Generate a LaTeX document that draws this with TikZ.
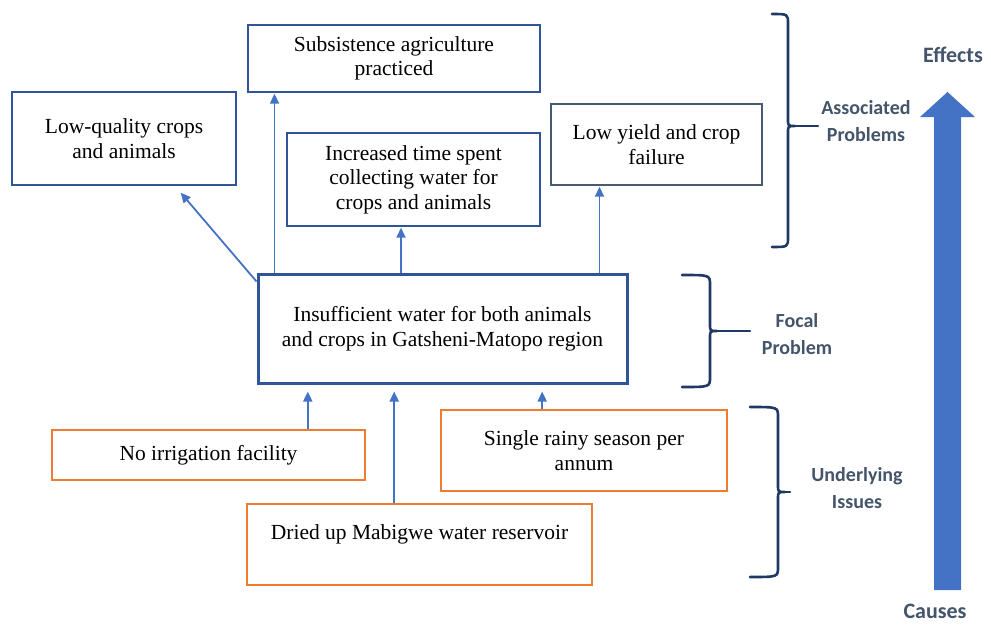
\documentclass[tikz,border=0pt]{standalone}
\usepackage{fontspec}
\setmainfont{Liberation Serif}
\newfontfamily\labelfont{Carlito}
\usepackage{xcolor}
\usepackage{tikz}
\usetikzlibrary{arrows.meta, positioning, calc}
\definecolor{cBox}{HTML}{2F5597}
\definecolor{cGrayBox}{HTML}{4A5A72}
\definecolor{cCause}{HTML}{ED7D31}
\definecolor{cArrow}{HTML}{4472C4}
\definecolor{cBrace}{HTML}{203864}
\definecolor{cLabel}{HTML}{44546A}

\tikzset{
	effectbox/.style={draw=cBox, line width=1.4pt, align=center, inner sep=0pt},
	causebox/.style={draw=cCause, line width=1.6pt, align=center, inner sep=0pt},
	link/.style={draw=cArrow, line width=1.8pt, -{Triangle[width=9pt,length=10pt]}},
	brk/.style={draw=cBrace, line width=2.6pt, line cap=round},
	sidelabel/.style={text=cLabel, font=\labelfont\bfseries\fontsize{20}{27}\selectfont, align=center},
}

\begin{document}
\begin{tikzpicture}[x=1pt, y=-1pt, font=\fontsize{21.5}{24.5}\selectfont]
	\useasboundingbox (0,0) rectangle (991,626);

	% effects
	\node[effectbox, minimum width=292pt, minimum height=67pt] (subs) at (394,58.5) {Subsistence agriculture\\practiced};
	\node[effectbox, minimum width=224pt, minimum height=93pt] (lowq) at (124,138.5) {Low-quality crops\\and animals};
	\node[effectbox, minimum width=253pt, minimum height=93pt] (incr) at (413.5,179.5) {Increased time spent\\collecting water for\\crops and animals};
	\node[effectbox, draw=cGrayBox, minimum width=211pt, minimum height=81pt] (lowy) at (656.5,144.5) {Low yield and crop\\failure};

	% focal problem
	\node[effectbox, line width=3pt, minimum width=369pt, minimum height=109pt] (focal) at (442.5,328.5) {Insufficient water for both animals\\and crops in Gatsheni-Matopo region};

	% causes
	\node[causebox, minimum width=313pt, minimum height=50pt] (noirr) at (208.5,455) {No irrigation facility};
	\node[causebox, minimum width=286pt, minimum height=81pt] (rainy) at (584,450.5) {Single rainy season per\\annum};
	\node[causebox, minimum width=345pt, minimum height=81pt] (dried) at (419.5,544.5) {Dried up Mabigwe water reservoir\\\mbox{}};

	% links up from the focal problem
	\draw[link] ([yshift=-9pt]focal.north west) -- ([xshift=-56pt,yshift=-7pt]lowq.south east);
	\draw[link, shorten >=1pt] ([xshift=18pt]focal.north west) -- ([xshift=18pt]focal.north west |- subs.south);
	\draw[link, shorten >=1pt] ([xshift=-12.5pt]incr.south |- focal.north) -- ([xshift=-12.5pt]incr.south);
	\draw[link, shorten >=1pt] ([xshift=-29pt]focal.north east) -- ([xshift=-29pt]focal.north east |- lowy.south);

	% links up into the focal problem
	\draw[link, shorten >=7pt] ([xshift=-58pt]noirr.north east) -- ([xshift=-58pt]noirr.north east |- focal.south);
	\draw[link, shorten >=7pt] ([xshift=148pt]dried.north west) -- ([xshift=148pt]dried.north west |- focal.south);
	\draw[link, shorten >=7pt] ([xshift=102pt]rainy.north west) -- ([xshift=102pt]rainy.north west |- focal.south);

	% braces
	\foreach \xa/\xb/\yt/\yb/\ym/\xt in {772/788/14/247/126/818, 682/710/275/387/331/750, 750/778/407/577/492/790} {
		\draw[brk] (\xa,\yt) .. controls (\xb,\yt) .. (\xb,\yt+10) -- (\xb,\ym-7)
			.. controls (\xb,\ym) .. (\xb+7,\ym) .. controls (\xb,\ym) .. (\xb,\ym+7)
			-- (\xb,\yb-10) .. controls (\xb,\yb) .. (\xa,\yb);
		\draw[brk] (\xb+6,\ym) -- (\xt,\ym);
	}

	\node[sidelabel] (assoc) at (866,121) {Associated\\Problems};
	\node[sidelabel] (focallbl) at (797,334) {Focal\\Problem};
	\node[sidelabel] (under) at (857,488) {Underlying\\Issues};

	% causes -> effects arrow
	\fill[cArrow] (934,590) -- (934,117) -- (920,117) -- (947.5,92) -- (975,117) -- (961,117) -- (961,590) -- cycle;
	\node[sidelabel, inner sep=0pt, font=\labelfont\bfseries\fontsize{22}{27}\selectfont] (effects) at (953,55) {Effects};
	\node[sidelabel, inner sep=0pt, font=\labelfont\bfseries\fontsize{22}{27}\selectfont] (causes) at (935,611) {Causes};
\end{tikzpicture}
\end{document}
